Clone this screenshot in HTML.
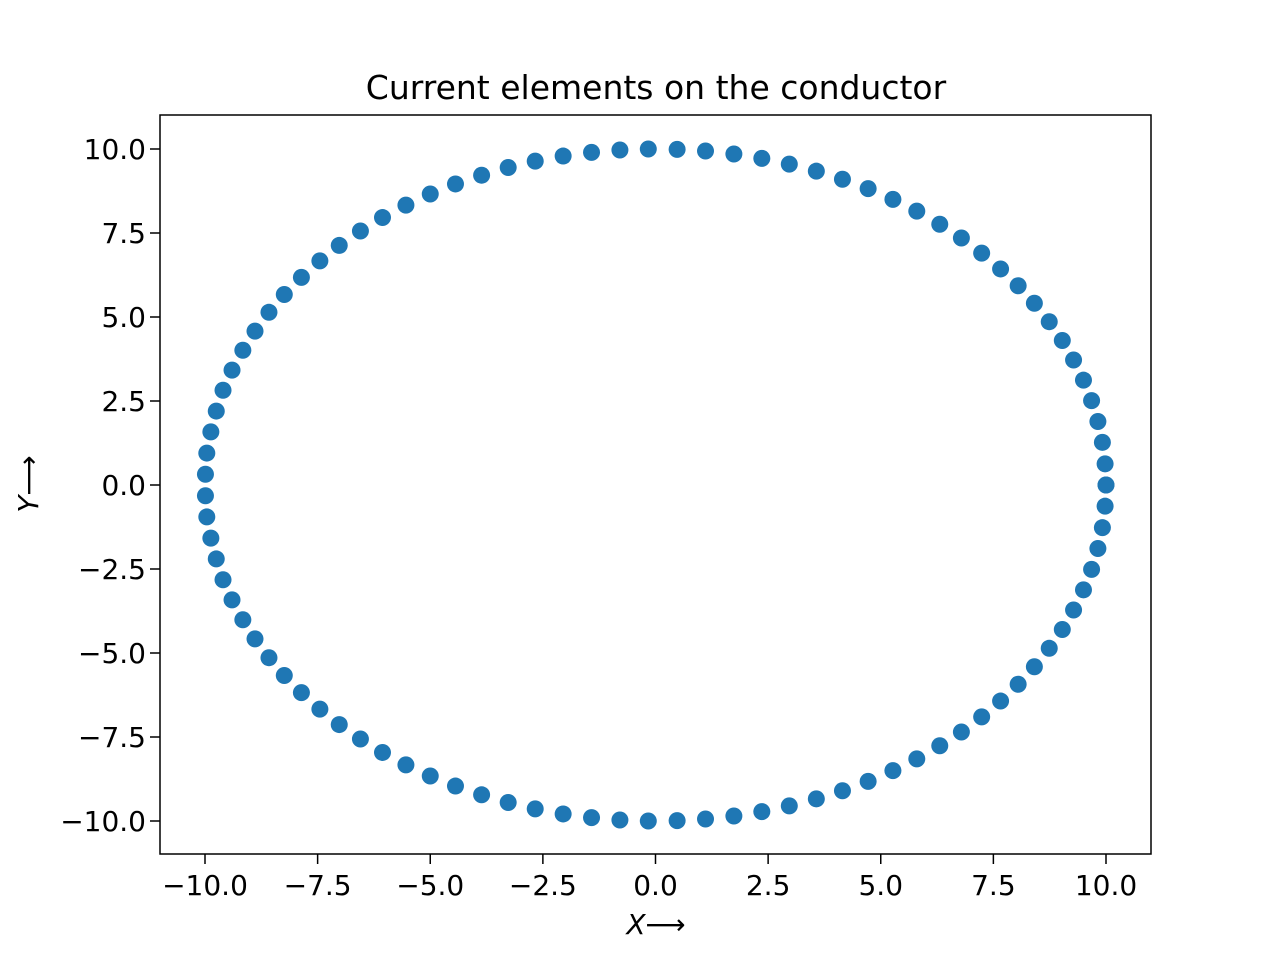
<!DOCTYPE html>
<html><head><meta charset="utf-8"><style>
html,body{margin:0;padding:0;background:#fff;}
svg{display:block;font-family:"DejaVu Sans","Liberation Sans",sans-serif;}
</style></head><body>
<svg id="chart" width="1280" height="960" xmlns="http://www.w3.org/2000/svg">
<text x="656" y="99" font-size="33" text-anchor="middle">Current elements on the conductor</text>
<g id="marks"></g>
<rect x="160" y="115" width="991" height="739" fill="none" stroke="#000" stroke-width="1.5"/>
<g id="xt"></g>
<g id="yt"></g>
<text x="656" y="934" font-size="28" text-anchor="middle"><tspan font-style="italic">X</tspan>⟶</text>
<text transform="translate(38,484) rotate(-90)" font-size="28" text-anchor="middle"><tspan font-style="italic">Y</tspan>⟶</text>
</svg>
<script>
const xHalf=[10,9.98,9.92,9.82,9.68,9.50,9.28,9.03,8.74,8.41,8.05,7.66,7.24,6.79,6.31,5.80,5.27,4.72,4.15,3.57,2.97,2.36,1.74,1.11,0.48,-0.16,-0.79,-1.42,-2.05,-2.67,-3.27,-3.86,-4.44,-5.00,-5.54,-6.06,-6.55,-7.02,-7.45,-7.86,-8.24,-8.58,-8.89,-9.16,-9.40,-9.60,-9.75,-9.87,-9.96,-9.99];
const yHalf=[0,0.63,1.27,1.89,2.51,3.12,3.72,4.30,4.86,5.41,5.93,6.43,6.90,7.35,7.76,8.15,8.50,8.82,9.10,9.34,9.55,9.72,9.85,9.94,9.99,10.00,9.97,9.90,9.79,9.64,9.45,9.22,8.96,8.66,8.33,7.96,7.56,7.13,6.67,6.18,5.67,5.14,4.58,4.01,3.42,2.82,2.20,1.58,0.95,0.32];
const xVals=xHalf.concat(xHalf.slice().reverse());
const yVals=yHalf.concat(yHalf.slice().reverse().map(v=>-v));
const tickVals=[-10,-7.5,-5,-2.5,0,2.5,5,7.5,10];
const tickLabels=["−10.0","−7.5","−5.0","−2.5","0.0","2.5","5.0","7.5","10.0"];
const NS="http://www.w3.org/2000/svg";
const sx=v=>655.5+v*45.05, sy=v=>485-v*33.6;
const marks=document.getElementById('marks');
for(let i=0;i<xVals.length;i++){
 const c=document.createElementNS(NS,'circle');
 
 
 c.setAttribute('cx',sx(xVals[i]));c.setAttribute('cy',sy(yVals[i]));c.setAttribute('r',8.5);c.setAttribute('fill','#1f77b4');
 marks.appendChild(c);
}
const xt=document.getElementById('xt'),yt=document.getElementById('yt');
tickVals.forEach((v,i)=>{
 const l=document.createElementNS(NS,'line');
 
 
 l.setAttribute('x1',sx(v));l.setAttribute('x2',sx(v));l.setAttribute('y1',854);l.setAttribute('y2',864);l.setAttribute('stroke','#000');l.setAttribute('stroke-width',1.5);
 xt.appendChild(l);
 const t=document.createElementNS(NS,'text');
 
 
 t.setAttribute('x',sx(v));t.setAttribute('y',895);t.setAttribute('font-size',28);t.setAttribute('text-anchor','middle');t.textContent=tickLabels[i];
 xt.appendChild(t);
 const l2=document.createElementNS(NS,'line');
 
 
 l2.setAttribute('x1',150);l2.setAttribute('x2',160);l2.setAttribute('y1',sy(v));l2.setAttribute('y2',sy(v));l2.setAttribute('stroke','#000');l2.setAttribute('stroke-width',1.5);
 yt.appendChild(l2);
 const t2=document.createElementNS(NS,'text');
 
 
 t2.setAttribute('x',146);t2.setAttribute('y',sy(v)+10);t2.setAttribute('font-size',28);t2.setAttribute('text-anchor','end');t2.textContent=tickLabels[i];
 yt.appendChild(t2);
});
</script>
</body></html>
